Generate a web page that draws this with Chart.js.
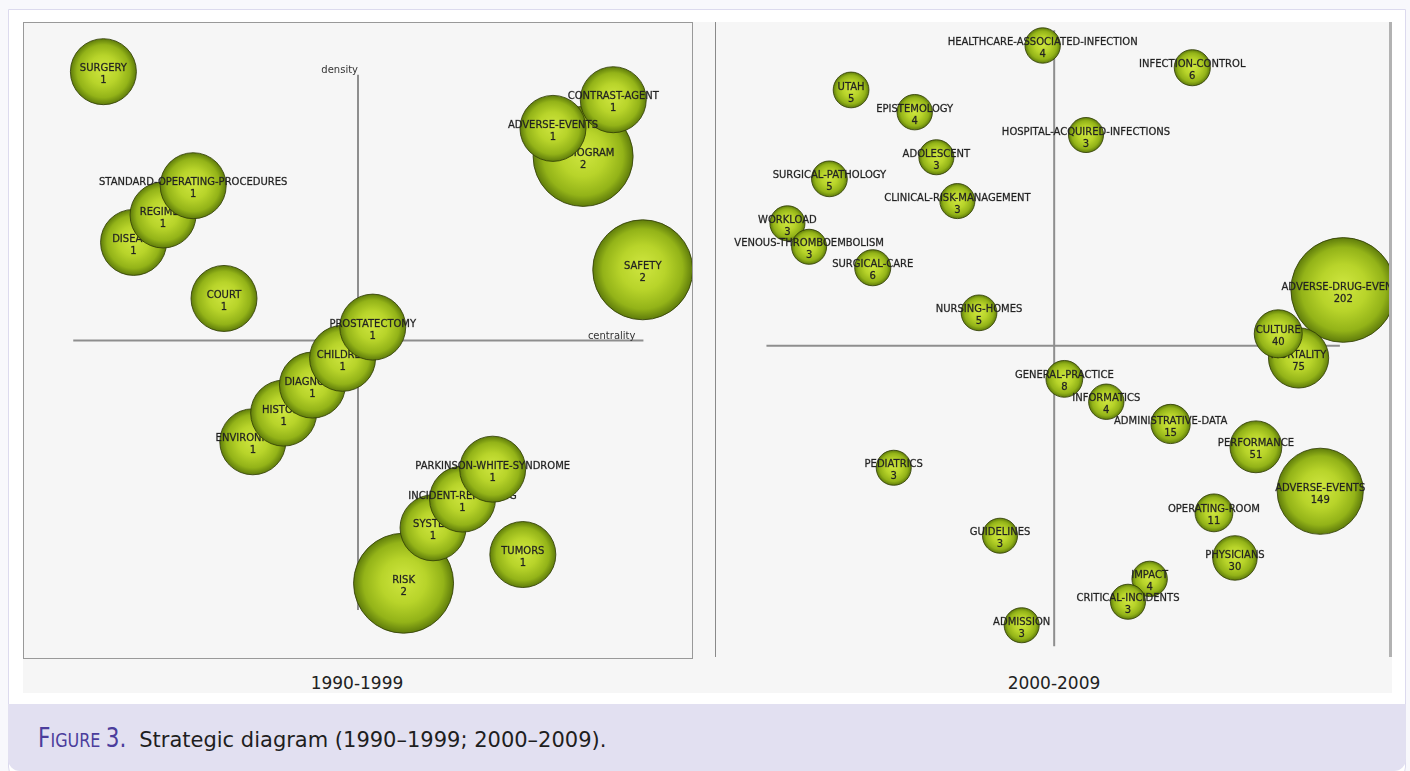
<!DOCTYPE html>
<html>
<head>
<meta charset="utf-8">
<script src="https://cdn.jsdelivr.net/npm/chart.js@4.4.0/dist/chart.umd.min.js"></script>
<style>
body { margin:0; width:1410px; height:771px; background:#f8f8fc; position:relative; overflow:hidden; font-family:"DejaVu Sans", Verdana, sans-serif; }
.frame { position:absolute; left:8px; top:9px; width:1398px; height:770px; background:#fff; border:1.5px solid #dcdaee; border-radius:0 0 12px 12px; box-sizing:border-box; }
.panelbg { position:absolute; left:23px; top:22px; width:1369px; height:671px; background:#f6f6f6; }
.box1 { position:absolute; left:23px; top:22px; width:670px; height:637px; border:1.5px solid #999; box-sizing:border-box; pointer-events:none; }
.box2 { position:absolute; left:715px; top:22px; width:677px; height:635px; border-left:1.5px solid #8a8a8a; border-right:3px solid #b2b2b2; box-sizing:border-box; pointer-events:none; }
canvas { position:absolute; }
#c90 { left:23px; top:22px; }
#c00 { left:715px; top:22px; }
.year { position:absolute; top:673px; width:300px; text-align:center; font-size:17px; color:#222; }
.caption { position:absolute; left:8px; top:704px; width:1398px; height:67px; background:#e2e0f1; border-radius:0 0 12px 12px; }
.caption p { position:absolute; left:30px; top:18px; margin:0; font-size:21px; color:#1e1e1e; white-space:nowrap; }
.fig { color:#4b3d9c; display:inline-block; transform:scaleX(0.8); transform-origin:left; margin-right:-16px; }
.fig .big { font-size:27px; }
.fig .sc { font-size:20px; }
</style>
</head>
<body>
<div class="frame"></div>
<div class="panelbg"></div>
<canvas id="c90" width="670" height="637"></canvas>
<canvas id="c00" width="677" height="635"></canvas>
<div class="box1"></div>
<div class="box2"></div>
<div class="year" style="left:207px">1990-1999</div>
<div class="year" style="left:904px">2000-2009</div>
<div class="caption"><p><span class="fig"><span class="big">F</span><span class="sc">IGURE</span> <span class="big">3.</span></span> Strategic diagram (1990–1999; 2000–2009).</p></div>
<script>
// 1990-1999 themes (array order = drawing order, later ones on top)
const topics90 = ['SURGERY','COURT','DISEASE','REGIMEN','STANDARD-OPERATING-PROCEDURES','ENVIRONMENT','HISTORY','DIAGNOSIS','CHILDREN','PROSTATECTOMY','RISK','SYSTEM','INCIDENT-REPORTING','PARKINSON-WHITE-SYNDROME','TUMORS','SAFETY','ANGIOGRAM','CONTRAST-AGENT','ADVERSE-EVENTS'];
const centrality90 = [12.0, 30.0, 16.5, 20.9, 25.4, 34.3, 38.9, 43.2, 47.7, 52.2, 56.8, 61.2, 65.6, 70.1, 74.6, 92.5, 83.6, 88.1, 79.1];
const density90 = [92.2, 56.6, 65.4, 69.7, 74.3, 34.1, 38.6, 43.0, 47.2, 52.1, 11.9, 20.6, 25.1, 29.8, 16.4, 61.1, 78.9, 87.8, 83.3];
const docs90 = [1, 1, 1, 1, 1, 1, 1, 1, 1, 1, 2, 1, 1, 1, 1, 2, 2, 1, 1];

// 2000-2009 themes
const topics00 = ['HEALTHCARE-ASSOCIATED-INFECTION','INFECTION-CONTROL','UTAH','EPISTEMOLOGY','HOSPITAL-ACQUIRED-INFECTIONS','ADOLESCENT','SURGICAL-PATHOLOGY','CLINICAL-RISK-MANAGEMENT','WORKLOAD','VENOUS-THROMBOEMBOLISM','SURGICAL-CARE','NURSING-HOMES','ADVERSE-DRUG-EVENTS','MORTALITY','CULTURE','GENERAL-PRACTICE','INFORMATICS','ADMINISTRATIVE-DATA','PERFORMANCE','PEDIATRICS','ADVERSE-EVENTS','OPERATING-ROOM','GUIDELINES','PHYSICIANS','IMPACT','CRITICAL-INCIDENTS','ADMISSION'];
const centrality00 = [48.4, 70.5, 20.1, 29.5, 54.8, 32.7, 16.9, 35.8, 10.7, 13.9, 23.3, 39.0, 92.8, 86.2, 83.2, 51.6, 57.8, 67.3, 79.9, 26.4, 89.4, 73.7, 42.1, 76.8, 64.2, 61.0, 45.3];
const density00 = [96.3, 92.8, 89.3, 85.8, 82.2, 78.7, 75.3, 71.8, 68.3, 64.6, 61.3, 54.2, 57.8, 47.1, 50.9, 43.8, 40.2, 36.7, 33.1, 29.8, 26.1, 22.7, 19.1, 15.6, 12.3, 8.7, 5.0];
const docs00 = [4, 6, 5, 4, 3, 3, 5, 3, 3, 3, 6, 5, 202, 75, 40, 8, 4, 15, 51, 3, 149, 11, 3, 30, 4, 3, 3];

// strategic axes: crossing point and extent, in centrality/density units
const axes90 = { cx: 50, cy: 50, xFrom: 7.5, xTo: 92.6, yFrom: 7.7, yTo: 91.7, titles: true };
const axes00 = { cx: 50.1, cy: 49.0, xFrom: 7.6, xTo: 92.3, yFrom: 1.7, yTo: 98.7, titles: false };

function ballFill(c) {
    const fallback = '#a4c41e';
    if (c.type !== 'data' || !c.raw) return fallback;
    const ch = c.chart, p = c.raw;
    const px = ch.scales.x.getPixelForValue(p.x), py = ch.scales.y.getPixelForValue(p.y);
    if (!isFinite(px) || !isFinite(py) || !isFinite(p.r)) return fallback;
    const g = ch.ctx.createRadialGradient(px, py - p.r * 0.08, 0, px, py, p.r);
    g.addColorStop(0, '#cfe640');
    g.addColorStop(0.45, '#b8d42a');
    g.addColorStop(0.8, '#93b318');
    g.addColorStop(1, '#5f7c0b');
    return g;
}

function makeSets(names, cent, dens, docs, sizeOf) {
    return names.map((n, i) => ({
        label: n,
        value: docs[i],
        data: [{ x: cent[i], y: dens[i], r: sizeOf(docs[i]) }],
        order: names.length - i,
        backgroundColor: ballFill,
        borderColor: 'rgba(50,64,6,0.85)',
        borderWidth: 1
    }));
}

const strategic = {
    id: 'strategic',
    beforeDatasetsDraw(chart, args, opts) {
        const { ctx } = chart;
        const x = chart.scales.x, y = chart.scales.y;
        const vx = x.getPixelForValue(opts.cx), hy = y.getPixelForValue(opts.cy);
        const top = y.getPixelForValue(opts.yTo), right = x.getPixelForValue(opts.xTo);
        ctx.save();
        ctx.strokeStyle = '#8e8e8e';
        ctx.lineWidth = 2;
        ctx.beginPath();
        ctx.moveTo(vx, top);
        ctx.lineTo(vx, y.getPixelForValue(opts.yFrom));
        ctx.moveTo(x.getPixelForValue(opts.xFrom), hy);
        ctx.lineTo(right, hy);
        ctx.stroke();
        if (opts.titles) {
            ctx.fillStyle = '#333';
            ctx.font = '10px "DejaVu Sans"';
            ctx.textAlign = 'right';
            ctx.textBaseline = 'alphabetic';
            ctx.fillText('density', vx, top - 2);
            ctx.fillText('centrality', right - 8, hy - 2);
        }
        ctx.restore();
    },
    afterDatasetDraw(chart, args) {
        const el = args.meta.data[0];
        const ds = chart.data.datasets[args.index];
        const ctx = chart.ctx;
        ctx.save();
        ctx.fillStyle = '#222';
        ctx.strokeStyle = 'rgba(34,34,34,0.6)';
        ctx.lineWidth = 0.4;
        ctx.font = '10px "DejaVu Sans"';
        ctx.textAlign = 'center';
        ctx.textBaseline = 'middle';
        [[ds.label, el.y - 3], [String(ds.value), el.y + 9]].forEach(([t, ty]) => {
            ctx.fillText(t, el.x, ty);
            ctx.strokeText(t, el.x, ty);
        });
        ctx.restore();
    }
};

function drawPanel(id, sets, axes) {
    const ctx = document.getElementById(id).getContext('2d');
    return new Chart(ctx, {
        type: 'bubble',
        data: { datasets: sets },
        options: {
            responsive: false,
            animation: false,
            events: [],
            layout: { padding: 0, autoPadding: false },
            scales: {
                x: { type: 'linear', min: 0, max: 100, display: false },
                y: { type: 'linear', min: 0, max: 100, display: false }
            },
            plugins: {
                legend: { display: false },
                tooltip: { enabled: false },
                strategic: axes
            }
        },
        plugins: [strategic]
    });
}

drawPanel('c90', makeSets(topics90, centrality90, density90, docs90, v => 16 + 17 * v), axes90);
drawPanel('c00', makeSets(topics00, centrality00, density00, docs00, v => 17 + 0.175 * v), axes00);
</script>
</body>
</html>
